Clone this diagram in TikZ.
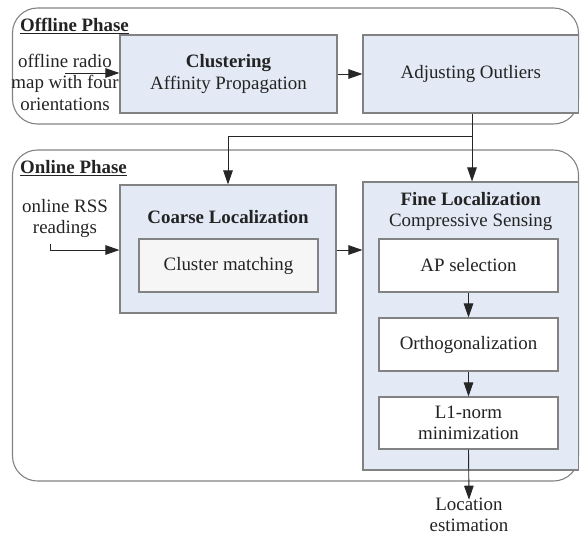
\documentclass[tikz,border=0pt]{standalone}
\usepackage{fontspec}
\setmainfont{Liberation Serif}
\usetikzlibrary{arrows.meta}
\definecolor{boxfill}{RGB}{227,234,246}
\definecolor{boxdraw}{RGB}{130,130,130}
\definecolor{txt}{RGB}{35,35,35}
\definecolor{inner}{RGB}{246,246,246}
\tikzset{
  phase/.style={draw=boxdraw, line width=1.1pt, rounded corners=25pt, fill=none},
  bluebox/.style={draw=boxdraw, line width=1.1pt, fill=boxfill},
  whitebox/.style={draw=boxdraw, line width=1.1pt, fill=white, minimum width=179pt, text=txt},
  txtnode/.style={text=txt, align=center, inner sep=0pt},
  conn/.style={draw=black!85, line width=0.9pt, -{Triangle[length=14pt,width=9.5pt]}},
  plain/.style={draw=black!85, line width=0.9pt}
}
\begin{document}
\begin{tikzpicture}[x=1pt,y=-1pt, font=\fontsize{18.9}{21.5}\selectfont]
\useasboundingbox (0,0) rectangle (580,536);
% phases
\node[phase, minimum width=566pt, minimum height=116pt] (offline) at (295.5,66) {};
\node[phase, minimum width=566pt, minimum height=331pt] (online) at (295.5,315.5) {};
\node[txtnode, anchor=west] (offlbl) at (20,26) {\underline{\textbf{Offline Phase}}};
\node[txtnode, anchor=west] (onlbl) at (20,168) {\underline{\textbf{Online Phase}}};
% offline boxes
\node[bluebox, minimum width=217pt, minimum height=78pt, align=center, text=txt] (clus) at (228.5,74) {\textbf{Clustering}\\Affinity Propagation};
\node[bluebox, minimum width=215.5pt, minimum height=78pt, text=txt] (adj) at (470.75,74) {Adjusting Outliers};
% offline input
\node[txtnode] (offin) at (65,82) {offline radio\\map with four\\orientations};
\coordinate (offstart) at (65,73);
% online boxes
\node[bluebox, minimum width=216pt, minimum height=128pt] (coarse) at (228,249) {};
\node[txtnode] (coarselbl) at (228,217) {\textbf{Coarse Localization}};
\node[whitebox, fill=inner, minimum height=53pt] (cm) at (228.5,265.5) {Cluster matching};
\node[bluebox, minimum width=215.5pt, minimum height=288pt] (fine) at (470.75,326) {};
\node[txtnode] (finelbl) at (470.75,211.5) {\textbf{Fine Localization}\\Compressive Sensing};
\node[whitebox, minimum height=53pt] (ap) at (468.5,265.5) {AP selection};
\node[whitebox, minimum height=53pt] (orth) at (468.5,344.5) {Orthogonalization};
\node[whitebox, minimum height=52pt, align=center] (l1) at (468.5,423) {L1-norm\\minimization};
% online input
\node[txtnode] (onin) at (65,218.5) {online RSS\\readings};
\coordinate (onstart) at (50,244);
\coordinate (oncorner) at (50,250);
\node[txtnode] (loc) at (469,515) {Location\\estimation};
% connectors
\draw[conn] (offstart) -- (clus.west |- offstart);
\draw[conn] (clus.east) -- (adj.west);
\draw[conn] (adj.south -| 472,0) -- (fine.north -| 472,0);
\coordinate (branch) at (472,136);
\draw[conn] (branch) -- (228,136) -- (coarse.north);
\draw[conn] (onstart) -- (oncorner) -- (coarse.west |- oncorner);
\draw[conn] (coarse.east |- 0,250) -- (fine.west |- 0,250);
\draw[conn] (ap.south) -- (orth.north);
\draw[conn] (orth.south) -- (l1.north);
\draw[conn] (l1.south) -- ([yshift=-2pt]loc.north);
\end{tikzpicture}
\end{document}
